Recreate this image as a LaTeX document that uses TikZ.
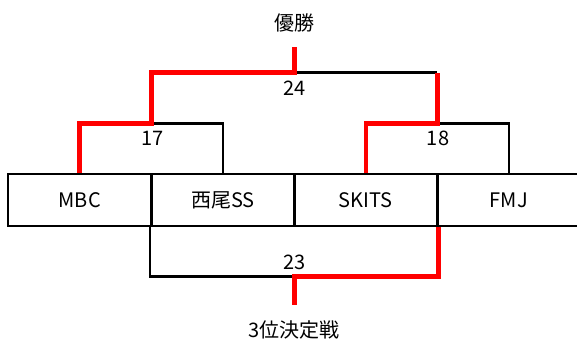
\documentclass[tikz,border=0pt]{standalone}
\usepackage{fontspec}
\setmainfont{Noto Sans CJK JP}
\begin{document}
\begin{tikzpicture}[x=1pt,y=-1pt,
  team/.style={draw=black,line width=2.5pt,minimum width=143pt,minimum height=52pt,inner sep=0pt,font=\fontsize{20}{23}\selectfont},
  lose/.style={draw=black,line width=2.5pt},
  win/.style={draw=red,line width=4.6pt},
  lbl/.style={inner sep=0pt,font=\fontsize{20}{23}\selectfont}]
\useasboundingbox (0,0) rectangle (577,345);
\node[team] (mbc) at (79.7,200) {MBC};
\node[team] (nishio) at (222.8,200) {西尾SS};
\node[team] (skits) at (365.8,200) {SKITS};
\node[team] (fmj) at (508.8,200) {FMJ};
\coordinate (m17) at (151.4,123.3);
\coordinate (m18) at (437.2,123.3);
\coordinate (m24) at (294.4,72.7);
\coordinate (r24) at (437.2,72.7);
\coordinate (champ) at (294.4,47);
\coordinate (m23) at (294.4,276.7);
\coordinate (third) at (294.4,305);
\draw[lose] (m17) -| (nishio.north);
\draw[lose] (m18) -| (fmj.north);
\draw[lose] (m24) -- (r24);
\draw[lose] (nishio.south west) |- (m23);
\draw[win] (mbc.north) |- (m17) |- (m24) -- (champ);
\draw[win] (skits.north) |- (m18) -- (r24);
\draw[win] (skits.south east) |- (m23) -- (third);
\node[lbl] (l17) at (152.7,138) {17};
\node[lbl] (l18) at (438,138) {18};
\node[lbl] (l24) at (294.4,88) {24};
\node[lbl] (l23) at (294.4,262) {23};
\node[lbl] (win) at (294.4,23) {優勝};
\node[lbl] (thd) at (294.4,330) {3位決定戦};
\end{tikzpicture}
\end{document}
